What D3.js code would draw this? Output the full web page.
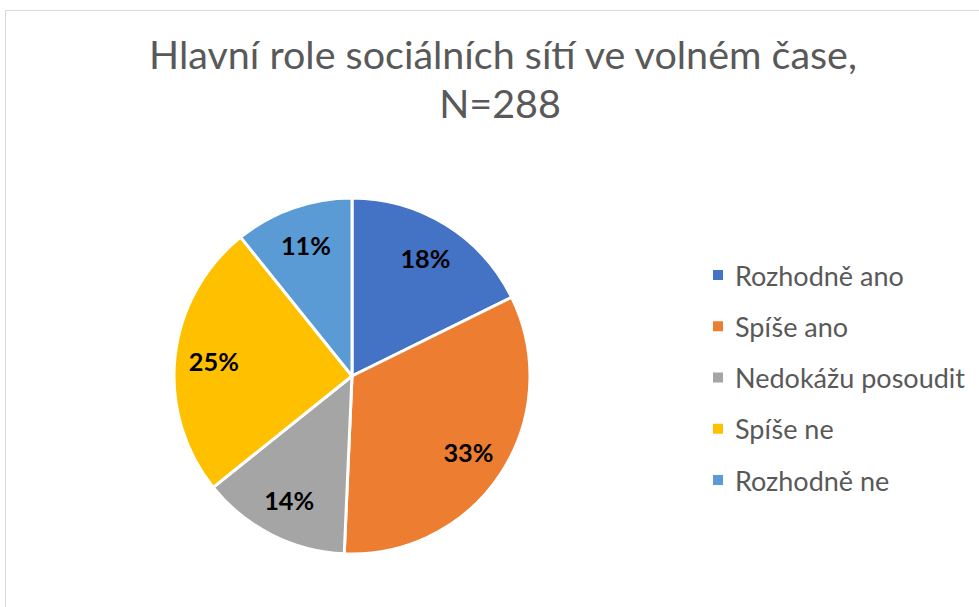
<!DOCTYPE html>
<html>
<head>
<meta charset="utf-8">
<script src="https://cdn.jsdelivr.net/npm/d3@7"></script>
<style>
  html, body { margin: 0; padding: 0; background: #fff; }
  svg { display: block; }
</style>
</head>
<body>
<div id="chart"></div>
<script>
/* Pie of the main role of social networks in free time; slices in sheet
   order clockwise from 12 o'clock, percentage labels inside, legend right. */
var categories = ["Rozhodně ano", "Spíše ano", "Nedokážu posoudit", "Spíše ne", "Rozhodně ne"];
var counts = [51, 95, 39, 72, 31];
var colors = ["#4472c4", "#ed7d31", "#a5a5a5", "#ffc000", "#5b9bd5"];
var titleLines = ["Hlavní role sociálních sítí ve volném čase,", "N=288"];

(function () {
  var W = 979, H = 607;
  var FONT = "Lato, 'Open Sans', sans-serif";
  var svg = d3.select("#chart").append("svg")
    .attr("width", W).attr("height", H);

  // chart frame (runs off the right and bottom edge of the shot)
  svg.append("rect").attr("x", 5.5).attr("y", 10.5)
    .attr("width", W + 10).attr("height", H + 10)
    .attr("fill", "#fff").attr("stroke", "#d9d9d9").attr("stroke-width", 1);

  // shrink/grow a text node so it spans the wanted width
  function fitWidth(sel, target, base) {
    sel.attr("font-size", base);
    var w = sel.node().getComputedTextLength();
    sel.attr("font-size", base * target / w);
    return base * target / w;
  }

  var title = svg.append("g").attr("font-family", FONT).attr("fill", "#595959")
    .attr("text-anchor", "middle");
  var t1 = title.append("text").attr("x", 503).attr("y", 69).text(titleLines[0]);
  var fs = fitWidth(t1, 708, 36);
  title.append("text").attr("x", 500).attr("y", 118)
    .attr("font-size", fs).text(titleLines[1]);

  var cx = 352, cy = 376, R = 178;
  var total = d3.sum(counts);
  var pie = d3.pie().sort(null).value(function (d) { return d; });
  var arcs = pie(counts);
  var arc = d3.arc().innerRadius(0).outerRadius(R);
  var labelArc = d3.arc().innerRadius(139).outerRadius(139);

  var g = svg.append("g").attr("transform", "translate(" + cx + "," + cy + ")");
  g.selectAll("path").data(arcs).join("path")
    .attr("d", arc)
    .attr("fill", function (d, i) { return colors[i]; })
    .attr("stroke", "#fff").attr("stroke-width", 3)
    .attr("stroke-linejoin", "round");

  var labels = g.selectAll("text.pct").data(arcs).join("text")
    .attr("class", "pct")
    .attr("font-family", FONT).attr("font-weight", "bold")
    .attr("text-anchor", "middle").attr("dominant-baseline", "central")
    .attr("fill", "#000")
    .attr("transform", function (d) { return "translate(" + labelArc.centroid(d) + ")"; })
    .text(function (d) { return Math.round(d.value / total * 100) + "%"; });
  var lfs = fitWidth(d3.select(labels.nodes()[1]), 50, 24);
  labels.attr("font-size", lfs);

  // legend
  var y = d3.scalePoint().domain(categories).range([275, 480]);
  var leg = svg.append("g").attr("font-family", FONT);
  var items = leg.selectAll("g").data(categories).join("g")
    .attr("transform", function (d) { return "translate(713," + y(d) + ")"; });
  items.append("rect").attr("x", 0).attr("y", -5).attr("width", 10).attr("height", 10)
    .attr("fill", function (d, i) { return colors[i]; });
  var texts = items.append("text").attr("x", 22).attr("y", 0)
    .attr("dominant-baseline", "central").attr("fill", "#595959")
    .text(function (d) { return d; });
  var gfs = fitWidth(d3.select(texts.nodes()[2]), 230, 24);
  texts.attr("font-size", gfs);
})();
</script>
</body>
</html>
